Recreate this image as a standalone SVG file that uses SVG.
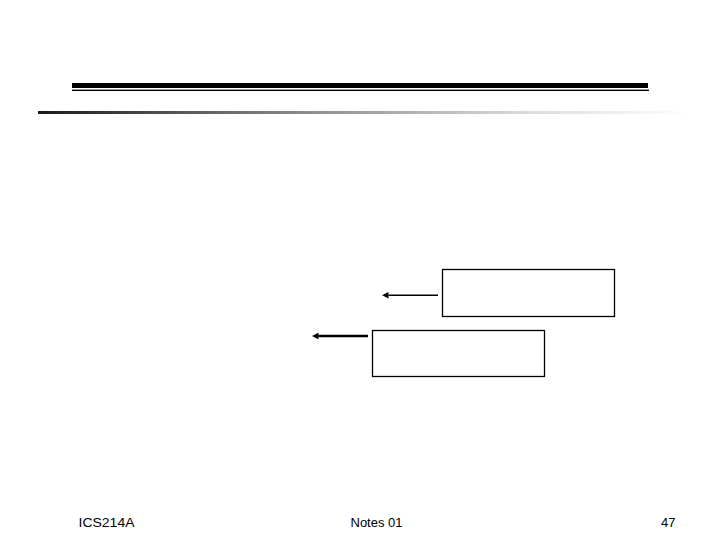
<svg xmlns="http://www.w3.org/2000/svg" width="720" height="540" viewBox="0 0 720 540">
<style>
.box{fill:#fff;stroke:#000;stroke-width:1.3}
.ft{font-family:"Liberation Sans",Arial,sans-serif;font-size:13px;fill:#000}
</style>
<defs>
<linearGradient id="g" x1="0" y1="0" x2="1" y2="0">
<stop offset="0" stop-color="#1a1a1a"/>
<stop offset="0.4" stop-color="#8a8a8a"/>
<stop offset="0.75" stop-color="#dcdcdc"/>
<stop offset="1" stop-color="#ffffff"/>
</linearGradient>
<marker id="ah" viewBox="0 0 10 10" refX="0" refY="5" markerWidth="4" markerHeight="4" markerUnits="strokeWidth" orient="auto">
<path d="M0,0 L10,5 L0,10 z" fill="#000"/>
</marker>
<marker id="ah2" viewBox="0 0 10 10" refX="0" refY="5" markerWidth="2.8" markerHeight="2.8" markerUnits="strokeWidth" orient="auto">
<path d="M0,0 L10,5 L0,10 z" fill="#000"/>
</marker>
</defs>
<rect width="720" height="540" fill="#fff"/>
<g id="header">
<rect x="72" y="83" width="576" height="5" fill="#000"/>
<rect x="72" y="89.6" width="577" height="1.4" fill="#000"/>
<rect x="38" y="111" width="655" height="3" fill="url(#g)"/>
</g>
<g id="node1"><rect class="box" x="442.5" y="269.5" width="172" height="47"/></g>
<g id="node2"><rect class="box" x="372.5" y="330.5" width="172" height="46"/></g>
<g id="connectors">
<line x1="438" y1="295.3" x2="388.5" y2="295.3" stroke="#000" stroke-width="1.6" marker-end="url(#ah)"/>
<line x1="368" y1="336" x2="318.5" y2="336" stroke="#000" stroke-width="2.4" marker-end="url(#ah2)"/>
</g>
<g id="footer">
<text class="ft" x="78.5" y="527" textLength="56" lengthAdjust="spacingAndGlyphs">ICS214A</text>
<text class="ft" x="350.5" y="527">Notes 01</text>
<text class="ft" x="661" y="527">47</text>
</g>
</svg>
